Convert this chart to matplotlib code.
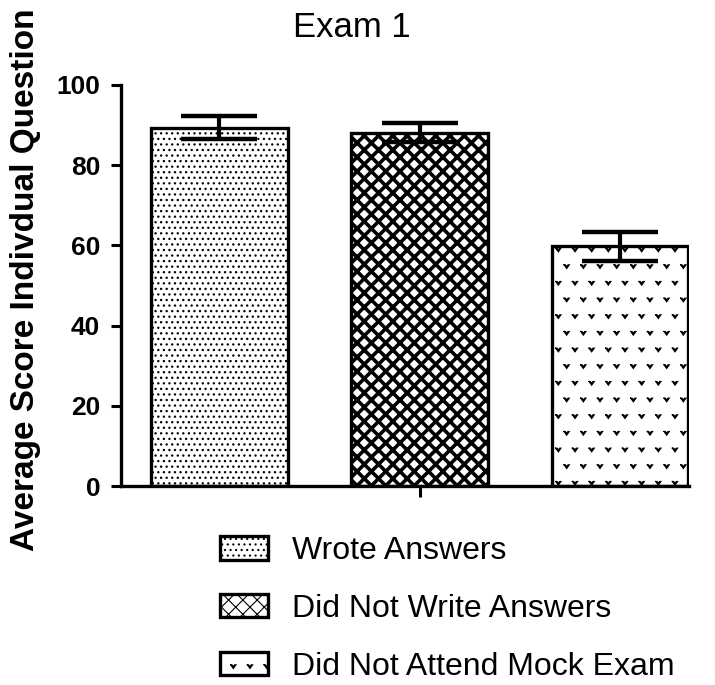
import numpy as np
import matplotlib
matplotlib.use("Agg")
import matplotlib.pyplot as plt
import matplotlib.hatch as mhatch

# ---- data ----
categories = ["Wrote Answers", "Did Not Write Answers", "Did Not Attend Mock Exam"]
means = [89.4, 88.1, 59.8]
errors = [2.9, 2.4, 3.6]
yticks = [0, 20, 40, 60, 80, 100]
title = "Exam 1"
ylabel = "Average Score Indivdual Question"

# ---- custom hatch styles (crosshatch density, small 'v' marks) ----
class _NE(mhatch.NorthEastHatch):
    def __init__(self, hatch, density):
        super().__init__(hatch, density)
        if 'x' in hatch:
            self.num_lines = 14 * hatch.count('x')
            self.num_vertices = (self.num_lines + 1) * 2

class _SE(mhatch.SouthEastHatch):
    def __init__(self, hatch, density):
        super().__init__(hatch, density)
        if 'x' in hatch:
            self.num_lines = 14 * hatch.count('x')
            self.num_vertices = (self.num_lines + 1) * 2

class _VMarks(mhatch.Stars):
    size = 0.16
    filled = True
    def __init__(self, hatch, density):
        self.num_rows = hatch.count('*') * density
        self.shape_vertices = np.array([[-1.0, 0.7], [-0.5, 0.7], [0.0, 0.05],
                                        [0.5, 0.7], [1.0, 0.7], [0.0, -0.7],
                                        [-1.0, 0.7]])
        self.shape_codes = np.full(len(self.shape_vertices), mhatch.Path.LINETO,
                                   dtype=mhatch.Path.code_type)
        self.shape_codes[0] = mhatch.Path.MOVETO
        mhatch.Shapes.__init__(self, hatch, density)

for i, ht in enumerate(mhatch._hatch_types):
    if ht is mhatch.NorthEastHatch:
        mhatch._hatch_types[i] = _NE
    elif ht is mhatch.SouthEastHatch:
        mhatch._hatch_types[i] = _SE
    elif ht is mhatch.Stars:
        mhatch._hatch_types[i] = _VMarks

plt.rcParams['font.family'] = ['Liberation Sans', 'DejaVu Sans']

hatches = ['...', 'x', '*']
hatch_lws = [0.9, 2.6, 0.8]

fig = plt.figure(figsize=(7.15, 6.85), dpi=100)
fig.patch.set_facecolor('white')
ax = fig.add_axes([121/715, 1-486/685, (689-121)/715, (486-85)/685])

x = np.arange(len(categories))
width = 0.683
for i in range(len(categories)):
    plt.rcParams['hatch.linewidth'] = hatch_lws[i]
    b = ax.bar(x[i], means[i], width=width, color='white', edgecolor='black',
               linewidth=2.4, hatch=hatches[i], label=categories[i], zorder=2)
    for p in b:
        if hasattr(p, 'set_hatch_linewidth'):
            p.set_hatch_linewidth(hatch_lws[i])

ax.errorbar(x, means, yerr=errors, fmt='none', ecolor='black', elinewidth=3,
            capsize=27.5, capthick=3.2, zorder=3)

ax.set_ylim(0, 100)
ax.set_xlim(-0.491, 2.345)
ax.set_yticks(yticks)
ax.set_yticklabels([str(t) for t in yticks], fontsize=19, fontweight='bold')
ax.set_xticks([1])
ax.set_xticklabels([''])
ax.tick_params(axis='y', length=7, width=2.2, pad=8)
ax.tick_params(axis='x', length=8, width=2.2)
for s in ['top', 'right']:
    ax.spines[s].set_visible(False)
for s in ['left', 'bottom']:
    ax.spines[s].set_linewidth(2.4)

fig.text(352/715, 1-37/685, title, ha='center', va='baseline', fontsize=25)
fig.text(26/715, 1-280/685, ylabel, ha='center', va='center', rotation=90,
         fontsize=24, fontweight='bold')

leg = fig.legend(loc='upper left', bbox_to_anchor=(220/715, 1-536/685),
                 frameon=False, fontsize=23, handlelength=1.5, handleheight=0.75,
                 handletextpad=0.75, labelspacing=0.87, borderpad=0,
                 borderaxespad=0)

fig.savefig('out.png', dpi=100, facecolor='white')
